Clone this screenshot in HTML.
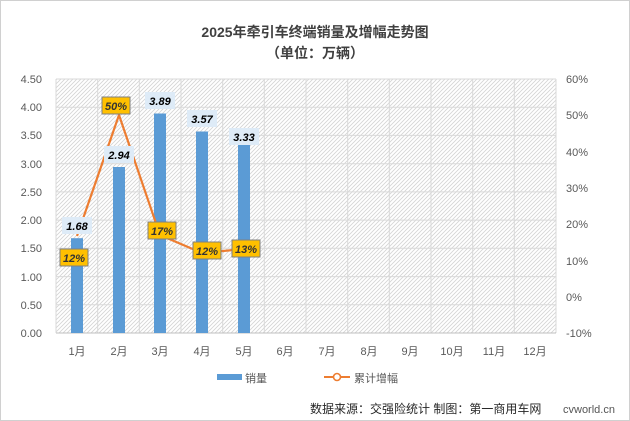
<!DOCTYPE html>
<html><head><meta charset="utf-8"><style>
body{margin:0;background:#fff}
svg{display:block;font-family:"Liberation Sans","Noto Sans CJK SC",sans-serif}
</style></head><body>
<svg width="630" height="421" viewBox="0 0 630 421">
<defs>
<pattern id="h" width="4" height="4" patternUnits="userSpaceOnUse"><rect width="4" height="4" fill="#fff"/><path d="M0,4 L4,0 M-1,1 L1,-1 M3,5 L5,3" stroke="#d4d4d4" stroke-width="0.8"/></pattern>
</defs>
<rect x="0.5" y="0.5" width="629" height="420" fill="#fff" stroke="#d0d0d0"/>
<text x="315" y="37" text-anchor="middle" font-size="14" font-weight="bold" fill="#404040">2025年牵引车终端销量及增幅走势图</text>
<text x="315" y="58" text-anchor="middle" font-size="14" font-weight="bold" fill="#404040">（单位：万辆）</text>
<rect x="56" y="79" width="500" height="254" fill="url(#h)"/>
<g stroke="#d9d9d9" stroke-width="1">
<line x1="56" y1="79" x2="556" y2="79"/><line x1="56" y1="107.2" x2="556" y2="107.2"/><line x1="56" y1="135.4" x2="556" y2="135.4"/><line x1="56" y1="163.7" x2="556" y2="163.7"/><line x1="56" y1="191.9" x2="556" y2="191.9"/><line x1="56" y1="220.1" x2="556" y2="220.1"/><line x1="56" y1="248.3" x2="556" y2="248.3"/><line x1="56" y1="276.6" x2="556" y2="276.6"/><line x1="56" y1="304.8" x2="556" y2="304.8"/>
<line x1="56" y1="79" x2="56" y2="333"/><line x1="97.7" y1="79" x2="97.7" y2="333"/><line x1="139.3" y1="79" x2="139.3" y2="333"/><line x1="181" y1="79" x2="181" y2="333"/><line x1="222.7" y1="79" x2="222.7" y2="333"/><line x1="264.3" y1="79" x2="264.3" y2="333"/><line x1="306" y1="79" x2="306" y2="333"/><line x1="347.7" y1="79" x2="347.7" y2="333"/><line x1="389.3" y1="79" x2="389.3" y2="333"/><line x1="431" y1="79" x2="431" y2="333"/><line x1="472.7" y1="79" x2="472.7" y2="333"/><line x1="514.3" y1="79" x2="514.3" y2="333"/><line x1="556" y1="79" x2="556" y2="333"/>
</g>
<line x1="56" y1="333" x2="556" y2="333" stroke="#bfbfbf"/>
<g font-size="11" fill="#595959" text-anchor="end">
<text x="42" y="83">4.50</text><text x="42" y="111">4.00</text><text x="42" y="139">3.50</text><text x="42" y="168">3.00</text><text x="42" y="196">2.50</text><text x="42" y="224">2.00</text><text x="42" y="252">1.50</text><text x="42" y="281">1.00</text><text x="42" y="309">0.50</text><text x="42" y="337">0.00</text>
</g>
<g font-size="11" fill="#595959" text-anchor="start">
<text x="566" y="83">60%</text><text x="566" y="119">50%</text><text x="566" y="156">40%</text><text x="566" y="192">30%</text><text x="566" y="228">20%</text><text x="566" y="265">10%</text><text x="566" y="301">0%</text><text x="566" y="337">-10%</text>
</g>
<g font-size="11" fill="#595959" text-anchor="middle">
<text x="77" y="355">1月</text><text x="119" y="355">2月</text><text x="160" y="355">3月</text><text x="202" y="355">4月</text><text x="244" y="355">5月</text><text x="285" y="355">6月</text><text x="327" y="355">7月</text><text x="369" y="355">8月</text><text x="410" y="355">9月</text><text x="452" y="355">10月</text><text x="494" y="355">11月</text><text x="535" y="355">12月</text>
</g>
<g fill="#5b9bd5">
<rect x="71" y="238.2" width="12" height="94.8"/><rect x="113" y="167" width="12" height="166"/><rect x="154" y="113.5" width="12" height="219.5"/><rect x="196" y="131.5" width="12" height="201.5"/><rect x="238" y="145" width="12" height="188"/>
</g>
<polyline points="77,236 119,115 160,235 202,253 244,249" fill="none" stroke="#ed7d31" stroke-width="2.2"/>
<g font-size="11" font-weight="bold" font-style="italic" fill="#000" text-anchor="middle">
<rect x="62" y="217" width="30" height="17" fill="#deebf7"/><text x="77" y="230">1.68</text>
<rect x="104" y="146" width="30" height="17" fill="#deebf7"/><text x="119" y="159">2.94</text>
<rect x="145" y="92" width="30" height="17" fill="#deebf7"/><text x="160" y="105">3.89</text>
<rect x="187" y="110" width="30" height="17" fill="#deebf7"/><text x="202" y="123">3.57</text>
<rect x="229" y="128" width="30" height="17" fill="#deebf7"/><text x="244" y="141">3.33</text>
</g>
<g font-size="11" font-weight="bold" font-style="italic" fill="#333" text-anchor="middle">
<rect x="60" y="249" width="28" height="17" fill="#ffc000" stroke="#7f7f7f"/><text x="74" y="262">12%</text>
<rect x="102" y="97" width="28" height="17" fill="#ffc000" stroke="#7f7f7f"/><text x="116" y="110">50%</text>
<rect x="148" y="222" width="28" height="17" fill="#ffc000" stroke="#7f7f7f"/><text x="162" y="235">17%</text>
<rect x="193" y="242" width="28" height="17" fill="#ffc000" stroke="#7f7f7f"/><text x="207" y="255">12%</text>
<rect x="232" y="240" width="28" height="17" fill="#ffc000" stroke="#7f7f7f"/><text x="246" y="253">13%</text>
</g>
<rect x="217" y="374" width="25" height="6" fill="#5b9bd5"/>
<text x="245" y="382" font-size="11" fill="#595959">销量</text>
<line x1="324" y1="377" x2="350" y2="377" stroke="#ed7d31" stroke-width="2"/>
<circle cx="337" cy="377" r="3.5" fill="#fff" stroke="#ed7d31" stroke-width="1.6"/>
<text x="354" y="382" font-size="11" fill="#595959">累计增幅</text>
<text x="310" y="413" font-size="12" fill="#262626">数据来源：交强险统计  制图：第一商用车网</text>
<text x="563" y="413" font-size="11" fill="#555">cvworld.cn</text>
</svg>
</body></html>
